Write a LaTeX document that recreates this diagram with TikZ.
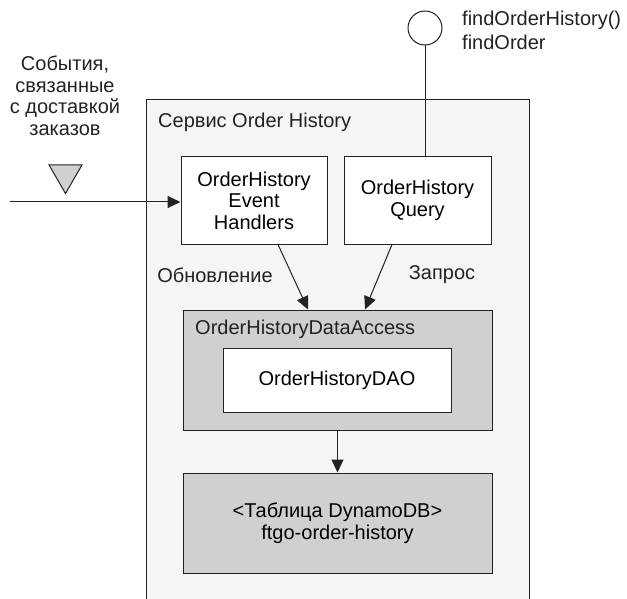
\documentclass[tikz,border=0pt]{standalone}
\usepackage{fontspec}
\setmainfont{Liberation Sans}
\usetikzlibrary{arrows.meta,shapes.geometric}
\definecolor{ink}{HTML}{222222}
\definecolor{boxgray}{HTML}{D0D0D0}
\definecolor{svcgray}{HTML}{F5F5F5}
\tikzset{
  box/.style={draw=ink,line width=1pt,fill=white,align=center,inner sep=0pt},
  graybox/.style={box,fill=boxgray},
  lbl/.style={inner sep=0pt,text=ink},
  arr/.style={draw=ink,line width=1pt,-{Triangle[length=13pt,width=12pt]}}
}
\begin{document}
\begin{tikzpicture}[x=1pt,y=-1pt,font=\fontsize{20}{21.5}\selectfont]
  \useasboundingbox (0,0) rectangle (627,599);
  \clip (0,0) rectangle (627,599);
  % Service boundary (open at the bottom)
  \node[box,fill=svcgray,anchor=north west,minimum width=383,minimum height=520] (service) at (146,99) {};
  \node[lbl,anchor=west] (svctitle) at (158,122) {Сервис Order History};
  % Incoming events
  \node[lbl,align=center] (events) at (65,96) {События,\\связанные\\с доставкой\\заказов};
  \node[draw=ink,fill=boxgray,line width=1pt,regular polygon,regular polygon sides=3,
        shape border rotate=180,minimum size=38,inner sep=0pt] (channel) at (65.5,174.5) {};
  \coordinate (src) at (10,202);
  % Query interface
  \node[draw=ink,line width=1pt,circle,minimum size=34,inner sep=0pt,fill=white] (iface) at (425,28) {};
  \node[lbl,anchor=west,align=left] (ops) at (462,30) {findOrderHistory()\\[2.5pt]findOrder};
  % Components
  \node[box,minimum width=146,minimum height=87] (handlers) at (254,200.5) {OrderHistory\\Event\\Handlers};
  \node[box,minimum width=147,minimum height=87] (query) at (417.5,200.5) {OrderHistory\\Query};
  \node[graybox,minimum width=309,minimum height=120] (access) at (337.5,370) {};
  \node[lbl,anchor=west] (acctitle) at (195,329) {OrderHistoryDataAccess};
  \node[box,minimum width=228,minimum height=64] (dao) at (337,380) {OrderHistoryDAO};
  \node[graybox,minimum width=309,minimum height=100] (table) at (337.5,523) {<Таблица DynamoDB>\\ftgo-order-history};
  % Connectors
  \draw[arr] (src) -- (src -| handlers.west);
  \draw[draw=ink,line width=1pt] (iface.south) -- (iface.south |- query.north);
  \draw[arr] ([xshift=24]handlers.south) -- ([xshift=-29.5]access.north);
  \draw[arr] ([xshift=-25.5]query.south) -- ([xshift=27.5]access.north);
  \draw[arr] (access.south) -- (table.north);
  \node[lbl] (upd) at (215,275) {Обновление};
  \node[lbl] (req) at (442,275) {Запрос};
\end{tikzpicture}
\end{document}
